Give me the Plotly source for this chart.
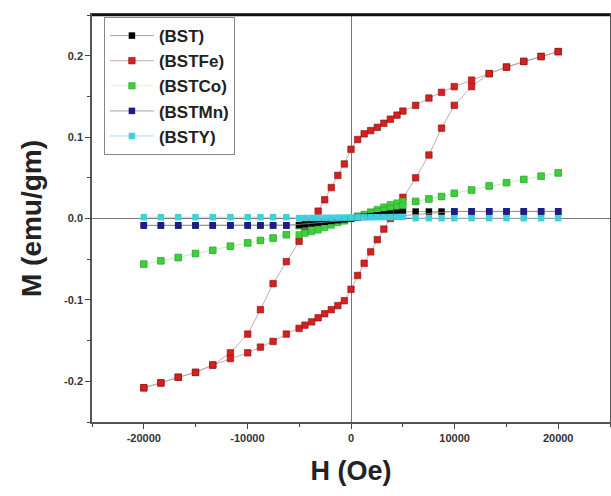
import plotly.graph_objects as go

# ---------------- data ----------------
# BSTFe hysteresis loop: descending branch then ascending branch
fe_h_down = [20000, 18350, 16680, 15010, 13340, 11640, 9970, 8740, 7520, 6240,
             5010, 4440, 3800, 3170, 2540, 1900, 1270, 640, 0,
             -640, -1270, -1900, -2540, -3170, -3800, -4440, -5010,
             -6240, -7520, -8740, -9970, -11640, -13340, -15010, -16680, -18350, -20000]
fe_m_down = [0.205, 0.199, 0.193, 0.186, 0.178, 0.170, 0.162, 0.155, 0.148, 0.139,
             0.132, 0.127, 0.122, 0.117, 0.112, 0.108, 0.104, 0.097, 0.085,
             0.067, 0.053, 0.038, 0.023, 0.009, -0.003, -0.016, -0.028,
             -0.053, -0.080, -0.112, -0.142, -0.165, -0.180, -0.189, -0.195, -0.202, -0.208]
fe_h_up = [-20000, -18350, -16680, -15010, -13340, -11640, -9970, -8740, -7520, -6240,
           -5010, -4440, -3800, -3170, -2540, -1900, -1270, -640, 0,
           640, 1270, 1900, 2540, 3170, 3800, 4440, 5010,
           6240, 7520, 8740, 9970, 11640, 13340, 15010, 16680, 18350, 20000]
fe_m_up = [-0.208, -0.202, -0.195, -0.189, -0.180, -0.172, -0.165, -0.158, -0.151, -0.142,
           -0.135, -0.131, -0.127, -0.122, -0.117, -0.112, -0.107, -0.101, -0.087,
           -0.070, -0.055, -0.041, -0.026, -0.013, 0.000, 0.013, 0.026,
           0.050, 0.078, 0.111, 0.139, 0.162, 0.178, 0.186, 0.193, 0.199, 0.205]

# BSTCo: outer points and two inner branches
co_h_outer_neg = [-20000, -18350, -16680, -15010, -13340, -11640, -9970, -8740, -7520, -6240]
co_m_outer_neg = [-0.056, -0.052, -0.048, -0.043, -0.039, -0.034, -0.030, -0.027, -0.024, -0.020]
co_h_outer_pos = [6240, 7520, 8740, 9970, 11640, 13340, 15010, 16680, 18350, 20000]
co_m_outer_pos = [0.021, 0.024, 0.027, 0.031, 0.035, 0.040, 0.044, 0.048, 0.052, 0.056]
co_h_inner_down = [5010, 4440, 3800, 3170, 2540, 1900, 1270, 640, 0,
                   -640, -1270, -1900, -2540, -3170, -3800, -4440, -5010]
co_m_inner_down = [0.021, 0.019, 0.017, 0.014, 0.011, 0.008, 0.005, 0.003, 0.000,
                   -0.002, -0.003, -0.004, -0.005, -0.006, -0.007, -0.008, -0.009]
co_h_inner_up = [-5010, -4440, -3800, -3170, -2540, -1900, -1270, -640, 0,
                 640, 1270, 1900, 2540, 3170, 3800, 4440, 5010]
co_m_inner_up = [-0.020, -0.018, -0.016, -0.014, -0.011, -0.008, -0.005, -0.003, 0.000,
                 0.002, 0.004, 0.006, 0.008, 0.010, 0.012, 0.014, 0.016]

# BST
bst_h = [-20000, -18350, -16680, -15010, -13340, -11640, -9970, -8740, -7520, -6240,
         -5010, -4440, -3800, -3170, -2540, -1900, -1270, -640, 0,
         640, 1270, 1900, 2540, 3170, 3800, 4440, 5010,
         6240, 7520, 8740, 9970, 11640, 13340, 15010, 16680, 18350, 20000]
bst_m = [-0.0085, -0.0085, -0.0085, -0.0085, -0.0085, -0.0085, -0.0085, -0.0085, -0.0085, -0.0085,
         -0.008, -0.007, -0.006, -0.005, -0.004, -0.003, -0.002, -0.001, 0.000,
         0.001, 0.002, 0.003, 0.004, 0.005, 0.006, 0.007, 0.008,
         0.0085, 0.0085, 0.0085, 0.0085, 0.0085, 0.0085, 0.0085, 0.0085, 0.0085, 0.0085]

# BSTMn
mn_h = [-20000, -18350, -16680, -15010, -13340, -11640, -9970, -8740, -7520, -6240,
        9970, 11640, 13340, 15010, 16680, 18350, 20000]
mn_m = [-0.0085, -0.0085, -0.0085, -0.0085, -0.0085, -0.0085, -0.0085, -0.0085, -0.0085, -0.0085,
        0.0088, 0.0088, 0.0088, 0.0088, 0.0088, 0.0088, 0.0088]

# BSTY
y_h = [-20000, -18350, -16680, -15010, -13340, -11640, -9970, -8740, -7520, -6240,
       -5010, -4440, -3800, -3170, -2540, -1900, -1270, -640, 0,
       640, 1270, 1900, 2540, 3170, 3800, 4440, 5010,
       6240, 7520, 8740, 9970, 11640, 13340, 15010, 16680, 18350, 20000]
y_m = [0.0016, 0.0016, 0.0016, 0.0016, 0.0016, 0.0016, 0.0016, 0.0016, 0.0016, 0.0016,
       0.0005, 0.0006, 0.0007, 0.0008, 0.0009, 0.0010, 0.0011, 0.0012, 0.0012,
       0.0013, 0.0014, 0.0015, 0.0016, 0.0017, 0.0018, 0.0019, 0.0020,
       0.0004, 0.0004, 0.0004, 0.0004, 0.0004, 0.0004, 0.0004, 0.0004, 0.0004, 0.0004]

x_tickvals = [-20000, -10000, 0, 10000, 20000]
x_ticktext = ["-20000", "-10000", "0", "10000", "20000"]
y_tickvals = [-0.2, -0.1, 0.0, 0.1, 0.2]
y_ticktext = ["-0.2", "-0.1", "0.0", "0.1", "0.2"]

# ---------------- figure ----------------
LINE = "rgba(140,140,140,0.8)"
MS = 6.5
fig = go.Figure()

# BSTFe (drawn first)
fig.add_trace(go.Scatter(
    x=fe_h_down + fe_h_up, y=fe_m_down + fe_m_up, name="(BSTFe)", legendrank=2,
    mode="lines+markers", line=dict(color="rgba(190,150,150,0.8)", width=1),
    marker=dict(symbol="square", size=MS, color="#d61f1f", line=dict(color="#8a1010", width=0.6))))

# BSTCo
fig.add_trace(go.Scatter(
    x=co_h_outer_pos[::-1] + co_h_inner_down + co_h_outer_neg[::-1] + co_h_outer_neg + co_h_inner_up + co_h_outer_pos,
    y=co_m_outer_pos[::-1] + co_m_inner_down + co_m_outer_neg[::-1] + co_m_outer_neg + co_m_inner_up + co_m_outer_pos,
    name="(BSTCo)", legendrank=3,
    mode="lines+markers", line=dict(color="rgba(120,220,120,0.25)", width=1),
    marker=dict(symbol="square", size=MS, color="#3dcf3d", line=dict(color="#2aa02a", width=0.5))))

# BST
fig.add_trace(go.Scatter(
    x=bst_h, y=bst_m, name="(BST)", legendrank=1,
    mode="lines+markers", line=dict(color=LINE, width=1),
    marker=dict(symbol="square", size=MS, color="#000000")))

# BSTMn
fig.add_trace(go.Scatter(
    x=mn_h, y=mn_m, name="(BSTMn)", legendrank=4,
    mode="lines+markers", line=dict(color=LINE, width=1),
    marker=dict(symbol="square", size=MS, color="#1c1c8c")))

# BSTY
fig.add_trace(go.Scatter(
    x=y_h, y=y_m, name="(BSTY)", legendrank=5,
    mode="lines+markers", line=dict(color="rgba(150,210,230,0.8)", width=1),
    marker=dict(symbol="square", size=MS, color="#3fd0dc")))

axis_common = dict(
    showgrid=False, showline=True, linecolor="#555", linewidth=1.5, mirror=True,
    ticks="outside", ticklen=5, tickwidth=1.2, tickcolor="#444",
    zeroline=True, zerolinecolor="#777", zerolinewidth=1, automargin=False,
    tickfont=dict(family="Arial, Liberation Sans", size=11, color="#333", weight="bold"),
)

fig.update_layout(
    width=611, height=496,
    margin=dict(l=92, r=1, t=15, b=74),
    paper_bgcolor="white", plot_bgcolor="white",
    font=dict(family="Arial, Liberation Sans"),
    xaxis=dict(axis_common, range=[-25000, 25000], tickvals=x_tickvals, ticktext=x_ticktext,
               minor=dict(tickvals=[-25000, -15000, -5000, 5000, 15000, 25000], ticks="outside",
                          ticklen=3, tickcolor="#444"),
               title=dict(text="H (Oe)", font=dict(size=27, color="#222", weight="bold"), standoff=18)),
    yaxis=dict(axis_common, range=[-0.25, 0.25], tickvals=y_tickvals, ticktext=y_ticktext,
               minor=dict(tickvals=[-0.25, -0.15, -0.05, 0.05, 0.15, 0.25], ticks="outside",
                          ticklen=3, tickcolor="#444"),
               title=dict(text="M (emu/gm)", font=dict(size=28, color="#222", weight="bold"), standoff=14)),
    legend=dict(x=0.023, y=0.995, xanchor="left", yanchor="top",
                bordercolor="#888", borderwidth=1, bgcolor="white",
                font=dict(size=17, color="#222", weight="bold"),
                itemwidth=44, tracegroupgap=0),
    shapes=[dict(type="line", xref="paper", yref="paper", x0=0, x1=1, y0=1, y1=1,
                 line=dict(color="#111", width=2.5))],
    showlegend=True,
)

fig.write_html("out.html", config={"displayModeBar": False},
               post_script="document.body.style.margin='0';")
